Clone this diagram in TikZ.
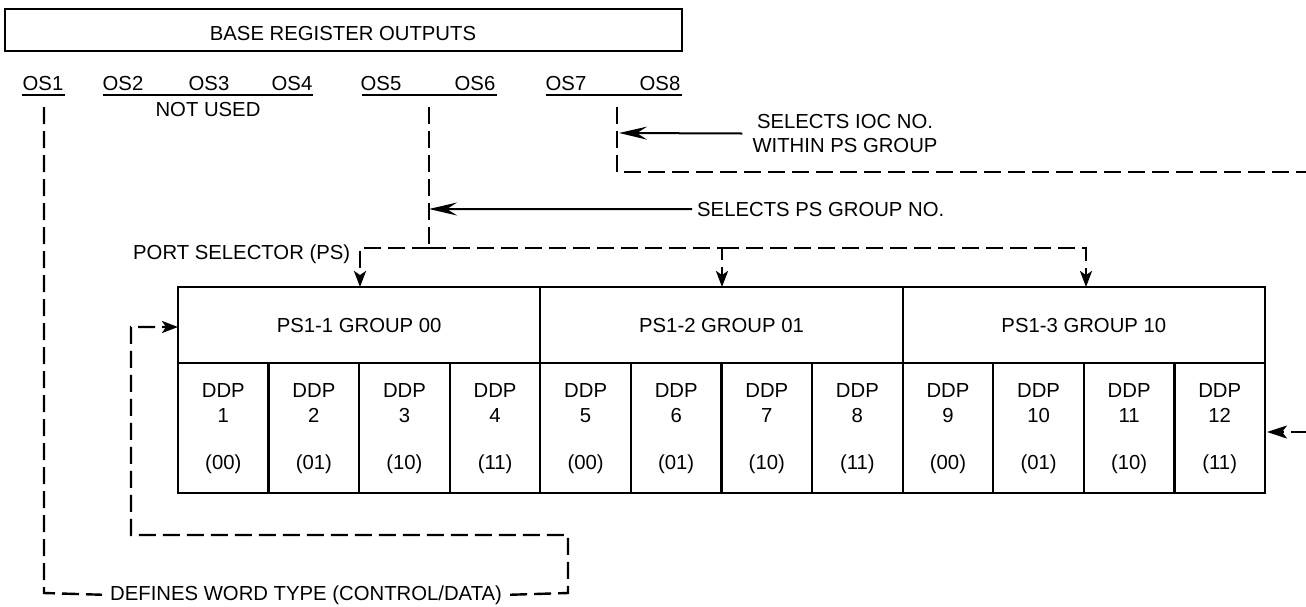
\documentclass[tikz,border=0pt]{standalone}
\usepackage{fontspec}
\setmainfont{Liberation Sans}
\usetikzlibrary{arrows.meta}
\begin{document}
\begin{tikzpicture}[x=1pt,y=-1pt,
  font=\fontsize{20.3}{24}\selectfont,
  every node/.style={inner sep=0pt},
  frame/.style={line width=2.2pt},
  uline/.style={line width=2pt},
  dashln/.style={line width=2.4pt, dash pattern=on 17pt off 7pt},
  solidln/.style={line width=2pt},
  bigtip/.style={-{Stealth[length=28pt,width=13pt,inset=10pt]}},
  droptip/.style={-{Stealth[length=16pt,width=12pt,inset=4pt]}},
  sidetip/.style={-{Stealth[length=20pt,width=13pt,inset=5pt]}},
  lbl/.style={anchor=base}]
\clip (0,0) rectangle (1306,606);

% base register
\draw[frame] (5,9) rectangle (682,51);
\node[lbl] (base) at (343,40) {BASE REGISTER OUTPUTS};

% output labels
\node[lbl] (os1) at (43,90.5) {OS1};
\node[lbl] (os2) at (123,90.5) {OS2};
\node[lbl] (os3) at (209,90.5) {OS3};
\node[lbl] (os4) at (292,90.5) {OS4};
\node[lbl] (os5) at (381,90.5) {OS5};
\node[lbl] (os6) at (475,90.5) {OS6};
\node[lbl] (os7) at (566,90.5) {OS7};
\node[lbl] (os8) at (660,90.5) {OS8};
\draw[uline] (22,95) -- (65,95);
\draw[uline] (103,95) -- (313,95);
\draw[uline] (362,95) -- (497,95);
\draw[uline] (546,95) -- (682,95);
\node[lbl] (notused) at (208,116) {NOT USED};

% port selector block
\def\cw{90.583}
\draw[frame] (178,287) rectangle (1265,493);
\draw[frame] (178,363) -- (1265,363);
\foreach \g in {1,2} \draw[frame] ({178+4*\g*\cw},287) -- ({178+4*\g*\cw},493);
\foreach \c in {1,2,3,5,6,7,9,10,11} \draw[frame] ({178+\c*\cw},363) -- ({178+\c*\cw},493);
\foreach \g/\t in {1/PS1-1 GROUP 00,2/PS1-2 GROUP 01,3/PS1-3 GROUP 10}
  \node[lbl] (grp\g) at ({178+(4*\g-2)*\cw},332) {\t};
\foreach \i/\c in {1/00,2/01,3/10,4/11,5/00,6/01,7/10,8/11,9/00,10/01,11/10,12/11}{
  \node[lbl] (ddp\i) at ({178+(\i-0.5)*\cw},397) {DDP};
  \node[lbl] (num\i) at ({178+(\i-0.5)*\cw},422) {\i};
  \node[lbl] (code\i) at ({178+(\i-0.5)*\cw},469) {(\c)};
}

% connector points
\coordinate (os1d) at (44,107);
\coordinate (os56d) at (429,107);
\coordinate (os78d) at (617,107);
\coordinate (psjoin) at (429,209);
\coordinate (iocjoin) at (619,133);
\coordinate (g1top) at (360,287);
\coordinate (g2top) at (722,287);
\coordinate (g3top) at (1086,287);
\coordinate (boxleft) at (178,327);
\coordinate (boxright) at (1267,432);

% labels with pointers
\node[anchor=base west] (selps) at (697,216) {SELECTS PS GROUP NO.};
\draw[solidln,bigtip] ([xshift=-5pt]selps.west) -- (psjoin);
\node[align=center,inner xsep=10pt] (ioc) at (845,133.5) {SELECTS IOC NO.\\[-0.3pt]WITHIN PS GROUP};
\draw[solidln,bigtip] (ioc.west) -- (iocjoin);
\node[anchor=base west] (pssel) at (133,259) {PORT SELECTOR (PS)};
\node[anchor=base west] (wtype) at (110,600) {DEFINES WORD TYPE (CONTROL/DATA)};

% OS5/OS6 to the port selector groups
\draw[dashln] (os56d) -- (429,248);
\draw[dashln,droptip] (429,248) -- (722,248) -- (g2top);
\draw[dashln,droptip] (429,248) -- (360,248) -- (g1top);
\draw[dashln,droptip] (722,248) -- (1086,248) -- (g3top);

% OS7/OS8 to the DDP within a group
\draw[dashln,sidetip] (os78d) -- (617,172) -- (1340,172) -- (1340,432) -- (boxright);

% OS1 word type
\draw[dashln] (os1d) -- (44,593) -- ([xshift=-8pt]wtype.west);
\draw[dashln,droptip] ([xshift=8pt]wtype.east) -- (568,593) -- (568,535) -- (131,535) -- (131,327) -- (boxleft);
\end{tikzpicture}
\end{document}
